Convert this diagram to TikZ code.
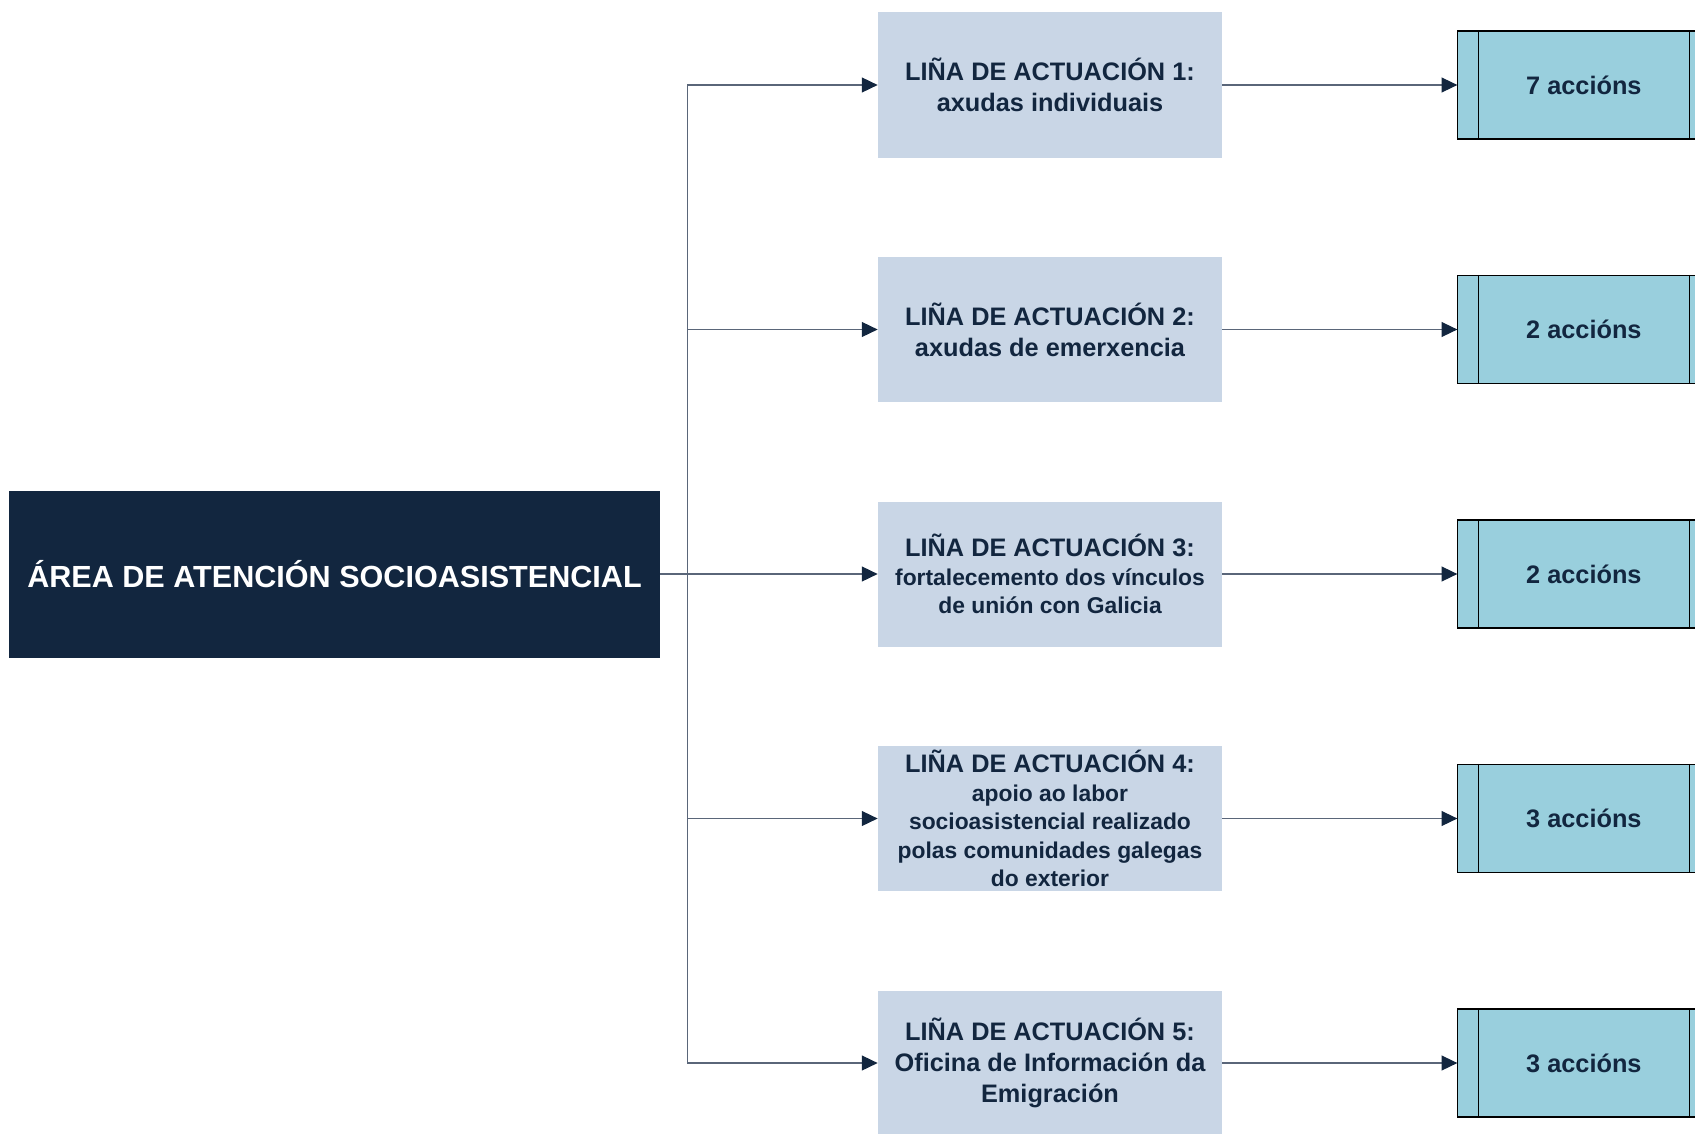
\documentclass[tikz,border=0pt]{standalone}
\usepackage{fontspec}
\setmainfont{Liberation Sans}
\usetikzlibrary{arrows.meta,positioning}

\definecolor{navy}{HTML}{12263F}
\definecolor{lineboxfill}{HTML}{C9D6E6}
\definecolor{actfill}{HTML}{99CFDD}
\definecolor{connector}{HTML}{5A6679}

\begin{document}
\begin{tikzpicture}[x=1cm,y=1cm,
  mainbox/.style={fill=navy,text=white,minimum width=13.02cm,minimum height=3.34cm,inner sep=0pt,font=\bfseries\fontsize{17.4}{20}\selectfont},
  linebox/.style={fill=lineboxfill,text=navy,minimum width=6.88cm,minimum height=2.9cm,inner sep=0pt,align=center,font=\bfseries\fontsize{14.4}{17.6}\selectfont},
  smalltext/.style={font=\bfseries\fontsize{13}{16.3}\selectfont},
  actbox/.style={draw=black,line width=0.6pt,fill=actfill,text=navy,minimum width=5.04cm,minimum height=2.16cm,inner sep=0pt,font=\bfseries\fontsize{14.4}{17.6}\selectfont},
  conn/.style={draw=connector,line width=0.7pt,-{Triangle[length=9pt,width=8.5pt,color=navy,fill=navy]}}]

 % page size
 \useasboundingbox (0,0) rectangle (33.9,-22.66);

 % MAIN AREA
 \node[mainbox] (main) at (6.69,-11.48) {ÁREA DE ATENCIÓN SOCIOASISTENCIAL};

 % Lines of action
 \node[linebox] (linha1) at (21.0,-1.70) {LIÑA DE ACTUACIÓN 1:\\axudas individuais};
 \node[linebox] (linha2) at (21.0,-6.59) {LIÑA DE ACTUACIÓN 2:\\axudas de emerxencia};
 \node[linebox,smalltext] (linha3) at (21.0,-11.48) {{\fontsize{14.4}{17.6}\selectfont LIÑA DE ACTUACIÓN 3:}\\fortalecemento dos vínculos\\de unión con Galicia};
 \node[linebox,smalltext] (linha4) at (21.0,-16.37) {{\fontsize{14.4}{17.6}\selectfont LIÑA DE ACTUACIÓN 4:}\\apoio ao labor\\socioasistencial realizado\\polas comunidades galegas\\do exterior};
 \node[linebox] (linha5) at (21.0,-21.26) {LIÑA DE ACTUACIÓN 5:\\Oficina de Información da\\Emigración};

 % trunk
 \coordinate (trunk) at (13.75,-11.48);
 \draw[draw=connector,line width=0.7pt] (main.east) -- (trunk);

 \foreach \i/\n in {1/7, 2/2, 3/2, 4/3, 5/3} {
   \draw[conn] (trunk) |- (linha\i.west);
   \node[actbox,right=4.7cm of linha\i] (accion\i) {\n\ accións};
   \draw[line width=0.6pt] ([xshift=0.42cm]accion\i.north west) -- ([xshift=0.42cm]accion\i.south west);
   \draw[line width=0.6pt] ([xshift=-0.42cm]accion\i.north east) -- ([xshift=-0.42cm]accion\i.south east);
   \draw[conn] (linha\i.east) -- (accion\i.west);
 }
\end{tikzpicture}
\end{document}
